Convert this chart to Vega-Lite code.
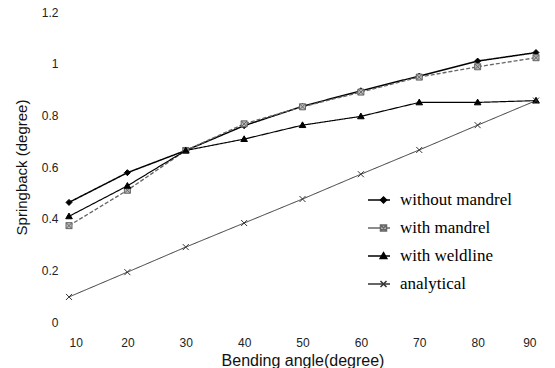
{
  "$schema": "https://vega.github.io/schema/vega-lite/v6.json",
  "width": 467,
  "height": 310,
  "autosize": {"type": "none"},
  "padding": {"left": 69, "top": 12, "right": 19, "bottom": 46},
  "background": "white",
  "config": {
    "view": {"stroke": null},
    "axis": {"grid": false, "domain": false, "ticks": false, "labelFont": "Liberation Sans", "titleFont": "Liberation Sans", "labelColor": "#222", "titleColor": "#111", "labelFontSize": 12, "titleFontWeight": "normal"}
  },
  "data": {
    "values": [
      {"series": "without mandrel", "angle": 10, "springback": 0.463},
      {"series": "without mandrel", "angle": 20, "springback": 0.578},
      {"series": "without mandrel", "angle": 30, "springback": 0.664},
      {"series": "without mandrel", "angle": 40, "springback": 0.76},
      {"series": "without mandrel", "angle": 50, "springback": 0.835},
      {"series": "without mandrel", "angle": 60, "springback": 0.895},
      {"series": "without mandrel", "angle": 70, "springback": 0.952},
      {"series": "without mandrel", "angle": 80, "springback": 1.01},
      {"series": "without mandrel", "angle": 90, "springback": 1.043},
      {"series": "with mandrel", "angle": 10, "springback": 0.373},
      {"series": "with mandrel", "angle": 20, "springback": 0.51},
      {"series": "with mandrel", "angle": 30, "springback": 0.664},
      {"series": "with mandrel", "angle": 40, "springback": 0.767},
      {"series": "with mandrel", "angle": 50, "springback": 0.833},
      {"series": "with mandrel", "angle": 60, "springback": 0.89},
      {"series": "with mandrel", "angle": 70, "springback": 0.948},
      {"series": "with mandrel", "angle": 80, "springback": 0.988},
      {"series": "with mandrel", "angle": 90, "springback": 1.023},
      {"series": "with weldline", "angle": 10, "springback": 0.409},
      {"series": "with weldline", "angle": 20, "springback": 0.527},
      {"series": "with weldline", "angle": 30, "springback": 0.664},
      {"series": "with weldline", "angle": 40, "springback": 0.708},
      {"series": "with weldline", "angle": 50, "springback": 0.762},
      {"series": "with weldline", "angle": 60, "springback": 0.796},
      {"series": "with weldline", "angle": 70, "springback": 0.85},
      {"series": "with weldline", "angle": 80, "springback": 0.85},
      {"series": "with weldline", "angle": 90, "springback": 0.857},
      {"series": "analytical", "angle": 10, "springback": 0.097},
      {"series": "analytical", "angle": 20, "springback": 0.193},
      {"series": "analytical", "angle": 30, "springback": 0.29},
      {"series": "analytical", "angle": 40, "springback": 0.383},
      {"series": "analytical", "angle": 50, "springback": 0.476},
      {"series": "analytical", "angle": 60, "springback": 0.572},
      {"series": "analytical", "angle": 70, "springback": 0.666},
      {"series": "analytical", "angle": 80, "springback": 0.762},
      {"series": "analytical", "angle": 90, "springback": 0.857}
    ]
  },
  "encoding": {
    "x": {"field": "angle", "type": "quantitative", "scale": {"domain": [10, 90], "nice": false, "zero": false}, "axis": {"values": [10, 20, 30, 40, 50, 60, 70, 80, 90], "title": "Bending angle(degree)", "titleFontSize": 16, "labelPadding": 15, "titlePadding": 4}},
    "y": {"field": "springback", "type": "quantitative", "scale": {"domain": [0, 1.2], "nice": false}, "axis": {"values": [0, 0.2, 0.4, 0.6, 0.8, 1, 1.2], "format": ".1~f", "title": "Springback (degree)", "titleFontSize": 15, "labelPadding": 11, "titlePadding": 12}}
  },
  "layer": [
    {
      "mark": {"type": "line"},
      "encoding": {
        "color": {
          "field": "series", "type": "nominal",
          "sort": ["without mandrel", "with mandrel", "with weldline", "analytical"],
          "scale": {"range": ["#000000", "#666666", "#000000", "#333333"]},
          "legend": {
            "title": null, "orient": "none", "legendX": 298, "legendY": 174, "padding": 0,
            "symbolType": "stroke", "symbolSize": 484, "clipHeight": 28, "rowPadding": 0,
            "labelExpr": "''", "labelFontSize": 17
          }
        },
        "strokeDash": {"field": "series", "type": "nominal", "sort": ["without mandrel", "with mandrel", "with weldline", "analytical"], "scale": {"range": [[1, 0], [4, 2], [1, 0], [1, 0]]}},
        "strokeWidth": {"field": "series", "type": "nominal", "sort": ["without mandrel", "with mandrel", "with weldline", "analytical"], "scale": {"range": [1.5, 1, 1.5, 0.9]}}
      }
    },
    {
      "mark": {"type": "point", "size": 36, "opacity": 1, "strokeWidth": 1},
      "encoding": {
        "shape": {
          "field": "series", "type": "nominal",
          "scale": {"domain": ["without mandrel", "with mandrel", "with weldline", "analytical"], "range": ["M0,-1L1,0L0,1L-1,0Z", "M-1,-1H1V1H-1ZM-1,-1L1,1M1,-1L-1,1", "M0,-1.1L1.1,0.8H-1.1Z", "M-1,-1L1,1M1,-1L-1,1"]},
          "legend": {
            "title": null, "orient": "none", "legendX": 306, "legendY": 174, "padding": 0,
            "symbolSize": 36, "clipHeight": 28, "rowPadding": 0, "labelOffset": 8,
            "labelFont": "Liberation Serif", "labelFontSize": 17, "labelColor": "#000", "symbolOpacity": 1
          }
        },
        "fill": {"field": "series", "type": "nominal", "scale": {"domain": ["without mandrel", "with mandrel", "with weldline", "analytical"], "range": ["#000000", "#bbbbbb", "#000000", "transparent"]}},
        "stroke": {"field": "series", "type": "nominal", "scale": {"domain": ["without mandrel", "with mandrel", "with weldline", "analytical"], "range": ["#000000", "#666666", "#000000", "#333333"]}}
      }
    }
  ]
}
